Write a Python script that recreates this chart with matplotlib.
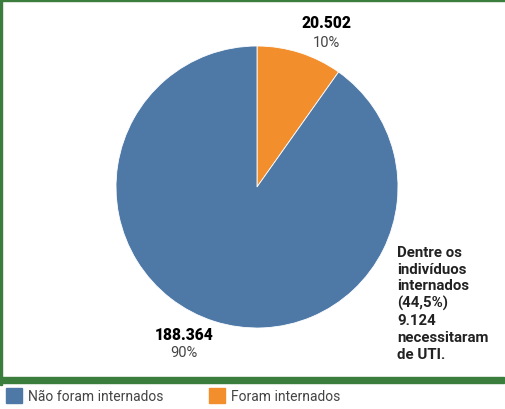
import matplotlib.pyplot as plt
from matplotlib.patches import Rectangle

# data
categories = ['Foram internados', 'Não foram internados']
values = [20502, 188364]
value_labels = ['20.502', '188.364']
pct_labels = ['10%', '90%']
colors = ['#f28e2b', '#4e79a7']
note = 'Dentre os\nindivíduos\ninternados\n(44,5%)\n9.124\nnecessitaram\nde UTI.'

plt.rcParams['font.family'] = ['Roboto', 'DejaVu Sans']

W, H = 505, 410
fig = plt.figure(figsize=(W / 100, H / 100), dpi=100)
fig.patch.set_facecolor('white')

# pie axes: center (257, 188) px, radius 141 px
cx, cy, r = 257, 188, 141
ax = fig.add_axes([(cx - r) / W, (H - cy - r) / H, 2 * r / W, 2 * r / H])
ax.pie(values, colors=colors, startangle=90, counterclock=False,
       wedgeprops=dict(linewidth=0.6, edgecolor='white'))
ax.set_xlim(-1, 1)
ax.set_ylim(-1, 1)
ax.set_aspect('equal')
ax.axis('off')

# slice labels (axes data coords)
ax.text(0.49, 1.17, value_labels[0], ha='center', va='center', fontsize=11.2,
        fontweight='heavy', color='black', clip_on=False)
ax.text(0.49, 1.03, pct_labels[0], ha='center', va='center', fontsize=10.5,
        color='#444444', clip_on=False)
ax.text(-0.52, -1.04, value_labels[1], ha='center', va='center', fontsize=11.2,
        fontweight='heavy', color='black', clip_on=False)
ax.text(-0.52, -1.17, pct_labels[1], ha='center', va='center', fontsize=10.5,
        color='#444444', clip_on=False)

# annotation
fig.text(397 / W, 1 - 246 / H, note, ha='left', va='top', fontsize=10.8,
         fontweight='semibold', color='#222222', linespacing=1.25)

# green frame
green = '#3a7d3c'
fig.patches.append(Rectangle((0, 1 - 2 / H), 1, 2 / H, transform=fig.transFigure,
                             color=green, zorder=0))
fig.patches.append(Rectangle((0, 1 - 386 / H), 2 / W, 384 / H, transform=fig.transFigure,
                             color=green, zorder=0))
fig.patches.append(Rectangle((0, 1 - 384 / H), 504 / W, 6 / H, transform=fig.transFigure,
                             color=green, zorder=0))

# legend
legend_items = [categories[1], categories[0]]
legend_colors = [colors[1], colors[0]]
legend_x = [6, 209]
for lx, lab, col in zip(legend_x, legend_items, legend_colors):
    fig.patches.append(Rectangle((lx / W, 1 - 404 / H), 16 / W, 15 / H,
                                 transform=fig.transFigure, color=col))
    fig.text((lx + 22) / W, 1 - 397 / H, lab, ha='left', va='center',
             fontsize=10, color='#444444')

fig.savefig('out.png', dpi=100, facecolor='white')
